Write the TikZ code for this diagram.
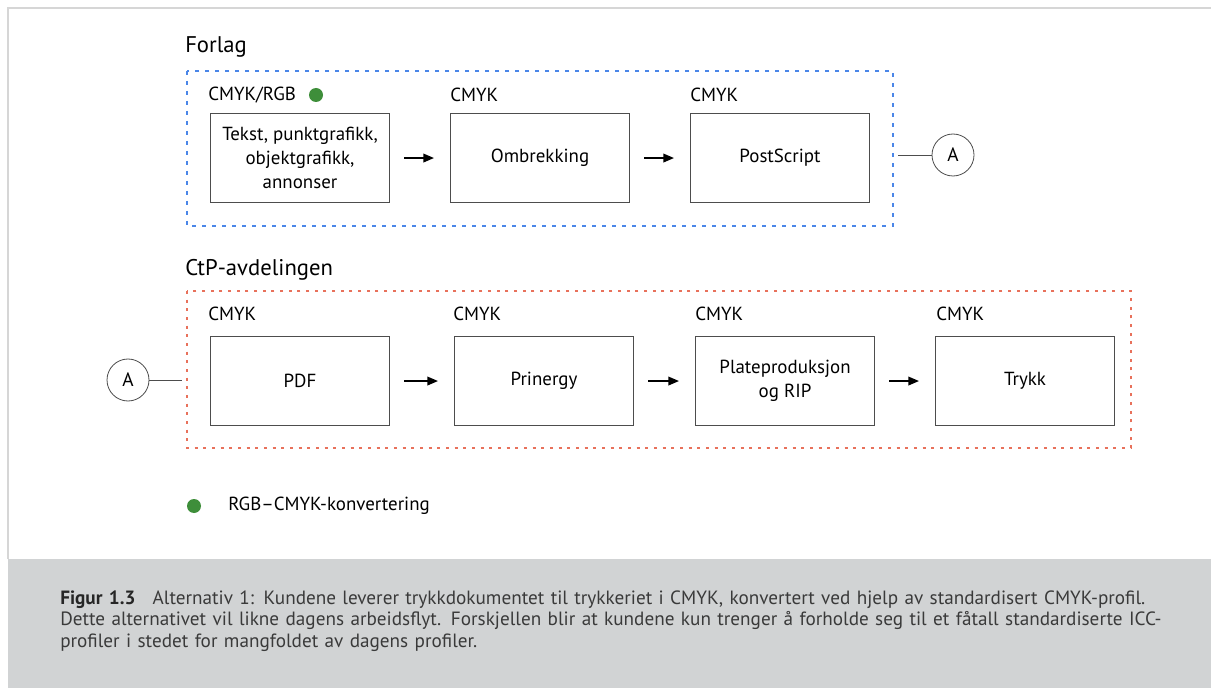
\documentclass[tikz,border=0pt]{standalone}
\usepackage{fontspec}
\setmainfont{PT Sans}
\usetikzlibrary{arrows.meta}
\definecolor{framegray}{HTML}{D6D6D6}
\definecolor{capgray}{HTML}{D1D3D4}
\definecolor{dotblue}{HTML}{4A86E8}
\definecolor{dotred}{HTML}{E8715B}
\definecolor{dotgreen}{HTML}{3E8E3A}
\definecolor{boxline}{HTML}{4D4D4D}
\definecolor{captext}{HTML}{3A3A3A}

\begin{document}
\begin{tikzpicture}[x=0.75pt,y=-0.75pt,
  stagebox/.style={draw=boxline,line width=0.8pt,minimum width=134.25pt,
    minimum height=66.75pt,inner sep=0pt,align=center,anchor=north west,
    font=\fontsize{14.2}{18}\selectfont},
  tag/.style={anchor=west,inner sep=0pt,font=\fontsize{14.2}{17}\selectfont},
  heading/.style={anchor=west,inner sep=0pt,font=\fontsize{17}{20}\selectfont},
  flow/.style={line width=1.2pt,-{Triangle[length=8pt,width=6.5pt]},shorten <=10.5pt,shorten >=12pt},
  link/.style={draw=boxline,line width=0.5pt},
  joint/.style={circle,draw=boxline,line width=0.6pt,minimum size=31.5pt,inner sep=0pt,
    font=\fontsize{14.5}{15}\selectfont},
  convdot/.style={circle,fill=dotgreen,minimum size=10.5pt,inner sep=0pt},
  groupblue/.style={draw=dotblue,line width=1.1pt,dash pattern=on 3pt off 4.5pt},
  groupred/.style={draw=dotred,line width=1.1pt,dash pattern=on 2.2pt off 4.3pt}]

\useasboundingbox (0,0) rectangle (1211,688);
\fill[white] (0,0) rectangle (1211,688);

% outer frame and caption band
\fill[capgray] (8,559) rectangle (1211,688);
\draw[framegray,line width=1.2pt] (8,559) -- (8,8) -- (1211,8);

% ---------- Forlag ----------
\node[heading] (forlag) at (185,47) {Forlag};
\draw[groupblue] (187,71) rectangle (893,226);

\node[tag] (t1) at (208,95) {CMYK/RGB};
\node[convdot] (d1) at (316,95) {};
\node[tag] (t2) at (450,95) {CMYK};
\node[tag] (t3) at (690,95) {CMYK};

\node[stagebox] (tekst) at (210,113) {Tekst, punktgrafikk,\\objektgrafikk,\\annonser};
\node[stagebox] (ombr) at (450,113) {Ombrekking};
\node[stagebox] (ps) at (690,113) {PostScript};

\draw[flow] (tekst.east) -- (ombr.west);
\draw[flow] (ombr.east) -- (ps.west);

\node[joint] (aout) at (953,155) {A};
\coordinate (aoutend) at (898,155);
\draw[link] (aout.west) -- (aoutend);

% ---------- CtP-avdelingen ----------
\node[heading] (ctp) at (185,270) {CtP-avdelingen};
\draw[groupred] (187,291) rectangle (1131,448);

\node[tag] (u1) at (208,314) {CMYK};
\node[tag] (u2) at (453,314) {CMYK};
\node[tag] (u3) at (695,314) {CMYK};
\node[tag] (u4) at (936,314) {CMYK};

\node[stagebox] (pdf) at (210,336) {PDF};
\node[stagebox] (prin) at (454,336) {Prinergy};
\node[stagebox] (plate) at (695,336) {Plateproduksjon\\og RIP};
\node[stagebox] (trykk) at (935,336) {Trykk};

\draw[flow] (pdf.east) -- (prin.west);
\draw[flow] (prin.east) -- (plate.west);
\draw[flow] (plate.east) -- (trykk.west);

\node[joint] (ain) at (128,380) {A};
\coordinate (ainend) at (182,380);
\draw[link] (ain.east) -- (ainend);

% ---------- legend ----------
\node[convdot] (d2) at (194,506) {};
\node[tag] (legend) at (228,506) {RGB–CMYK-konvertering};

% ---------- caption ----------
\node[anchor=base west,inner sep=0pt,text width=870pt,align=left,
  text=captext,font=\fontsize{14.4}{16.2}\selectfont] (cap) at (60,604)
  {\textbf{\color{black!85}Figur 1.3}\hspace{0.9em}Alternativ 1: Kundene leverer trykkdokumentet til trykkeriet i CMYK, konvertert ved hjelp av standardisert CMYK-profil.\\
   Dette alternativet vil likne dagens arbeidsflyt. Forskjellen blir at kundene kun trenger å forholde seg til et fåtall standardiserte ICC-\\
   profiler i stedet for mangfoldet av dagens profiler.};
\end{tikzpicture}
\end{document}
